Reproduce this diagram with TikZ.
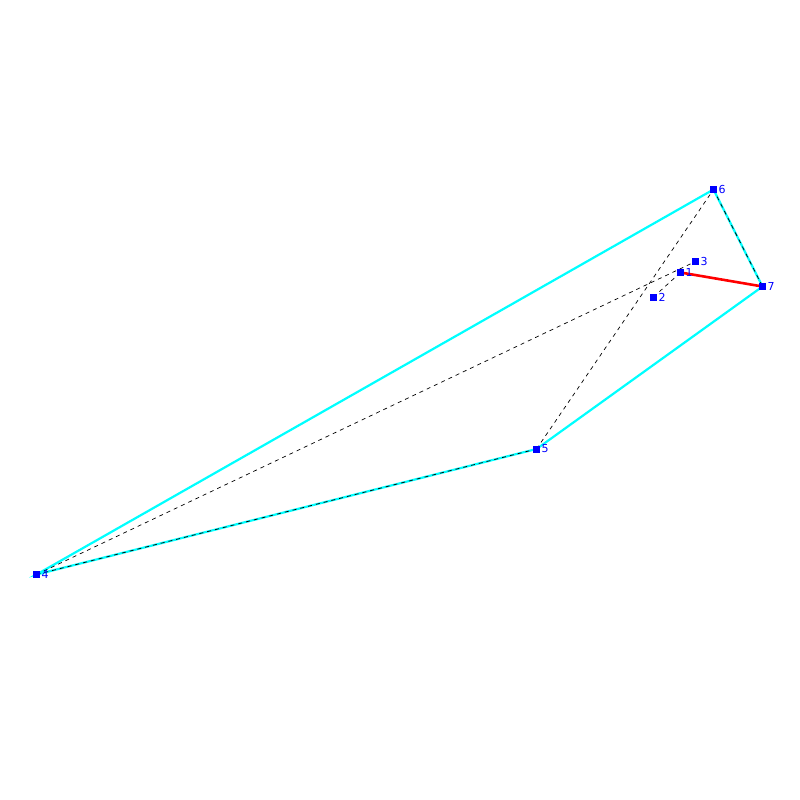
\documentclass[tikz,border=0pt]{standalone}
\usepackage{fontspec}
\setmainfont{DejaVu Sans}
\definecolor{hullcyan}{RGB}{0,255,255}
\definecolor{ptblue}{RGB}{0,0,255}
\definecolor{edgered}{RGB}{255,0,0}
\begin{document}
\begin{tikzpicture}[x=1pt,y=-1pt,
  pt/.style={fill=ptblue,draw=none,minimum size=7pt,inner sep=0pt,outer sep=0pt,rectangle},
  lbl/.style={text=ptblue,font=\fontsize{11}{11}\selectfont,anchor=west,inner sep=0pt,xshift=5pt},
  hull/.style={hullcyan,line width=2.2pt},
  dsh/.style={black,line width=0.7pt,dash pattern=on 4pt off 4pt},
  redge/.style={edgered,line width=2.6pt}]
\useasboundingbox (0,0) rectangle (800,800);
\fill[white] (0,0) rectangle (800,800);
\coordinate (p1) at (680.5,272.5);
\coordinate (p2) at (653.5,297);
\coordinate (p3) at (695.5,261.5);
\coordinate (p4) at (36.5,574.5);
\coordinate (p5) at (536.5,449);
\coordinate (p6) at (713.5,189.5);
\coordinate (p7) at (762.5,286.5);
\draw[hull] (p4) -- (p6) -- (p7) -- (p5) -- cycle;
\draw[dsh] (p4) -- (p5);
\draw[dsh] (p6) -- (p7);
\draw[dsh] (p5) -- (p6);
\draw[dsh] (p4) -- (p3);
\draw[dsh] (p2) -- (p1);
\draw[redge] (p1) -- (p7);
\foreach \i in {1,...,7} {
  \node[pt] (n\i) at (p\i) {};
  \node[lbl] at (p\i) {\i};
}
\end{tikzpicture}
\end{document}
